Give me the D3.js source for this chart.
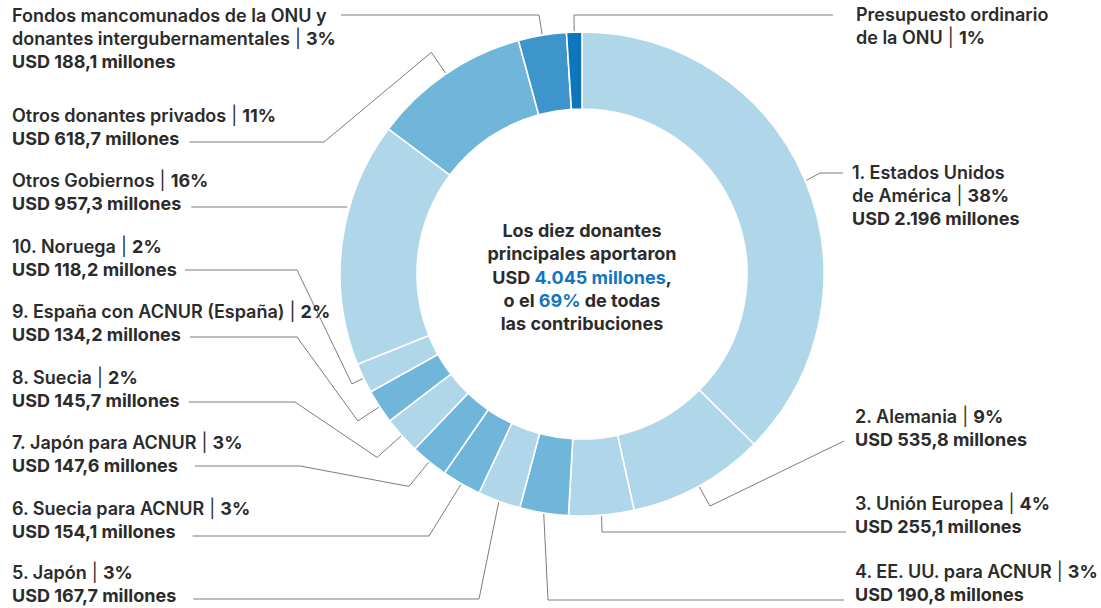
<!DOCTYPE html>
<html>
<head>
<meta charset="utf-8">
<script src="https://cdn.jsdelivr.net/npm/d3@7"></script>
<style>
  body { margin: 0; background: #fff; }
  svg text { font-family: Inter, "Open Sans", sans-serif; font-size: 18px; fill: #2b2b2b; }
</style>
</head>
<body>
<div id="donut"></div>
<script>
const names = [
  "1. Estados Unidos\nde América", "2. Alemania", "3. Unión Europea", "4. EE. UU. para ACNUR",
  "5. Japón", "6. Suecia para ACNUR", "7. Japón para ACNUR", "8. Suecia",
  "9. España con ACNUR (España)", "10. Noruega", "Otros Gobiernos", "Otros donantes privados",
  "Fondos mancomunados de la ONU y\ndonantes intergubernamentales", "Presupuesto ordinario\nde la ONU"
];
const values = [2196, 535.8, 255.1, 190.8, 167.7, 154.1, 147.6, 145.7, 134.2, 118.2, 957.3, 618.7, 188.1, 60];
const shares = ["38%", "9%", "4%", "3%", "3%", "3%", "3%", "2%", "2%", "2%", "16%", "11%", "3%", "1%"];
const amounts = [
  "USD 2.196 millones", "USD 535,8 millones", "USD 255,1 millones", "USD 190,8 millones",
  "USD 167,7 millones", "USD 154,1 millones", "USD 147,6 millones", "USD 145,7 millones",
  "USD 134,2 millones", "USD 118,2 millones", "USD 957,3 millones", "USD 618,7 millones",
  "USD 188,1 millones", null
];
const donorType = ["gov", "gov", "gov", "private", "gov", "private", "private", "gov", "private", "gov", "gov", "private", "pooled", "un"];
const centerLines = ["Los diez donantes", "principales aportaron", "USD *4.045 millones*,", "o el *69%* de todas", "las contribuciones"];

const data = names.map((n, i) => ({ name: n, value: values[i], share: shares[i], amount: amounts[i], type: donorType[i] }));

const width = 1101, height = 608;
const cx = 582, cy = 274, R = 242, r0 = 165;

// label placement: first baseline, which line carries the leader, leader y, knee point
const labelPos = [
  { side: "right", x: 852, y: 179, lead: 0, ly: 173, knee: [820, 173], gap: 9 },
  { side: "right", x: 855, y: 423, lead: 1, ly: 441, elbow: 23, gap: 11 },
  { side: "right", x: 855, y: 510, lead: 1, ly: 532, knee: [602, 532], gap: 9 },
  { side: "right", x: 855, y: 578, lead: 1, ly: 600, knee: [548, 600], gap: 11 },
  { side: "left", x: 12, y: 579, lead: 1, ly: 599, knee: [479, 599], gap: 17 },
  { side: "left", x: 12, y: 515, lead: 1, ly: 536, knee: [429, 536], gap: 17 },
  { side: "left", x: 12, y: 449, lead: 1, ly: 466, elbow: 32, knee: [300, 466], gap: 17 },
  { side: "left", x: 12, y: 384, lead: 1, ly: 402, elbow: 33, knee: [295, 402], gap: 9 },
  { side: "left", x: 12, y: 318, lead: 1, ly: 337, elbow: 26, knee: [297, 337], gap: 9 },
  { side: "left", x: 12, y: 253, lead: 1, ly: 270, elbow: 13, knee: [297, 270], gap: 8 },
  { side: "left", x: 12, y: 187, lead: 1, ly: 207, flat: true, gap: 10 },
  { side: "left", x: 12, y: 122, lead: 1, ly: 142, elbow: 26, knee: [324, 142], gap: 10 },
  { side: "left", x: 12, y: 22, lead: 0, ly: 15, knee: [539, 15], gap: 14 },
  { side: "right", x: 856, y: 21, lead: 0, ly: 15, knee: [574, 15], gap: 23 }
];

const color = d3.scaleOrdinal()
  .domain(["gov", "private", "pooled", "un"])
  .range(["#b0d6e9", "#70b6da", "#3d95cb", "#0e76bc"]);

const svg = d3.select("#donut")
  .append("svg")
  .attr("width", width)
  .attr("height", height);

const pie = d3.pie().sort(null).value(d => d.value);
const arc = d3.arc().innerRadius(r0).outerRadius(R);
const arcs = pie(data);

svg.append("g")
  .attr("transform", `translate(${cx},${cy})`)
  .selectAll("path")
  .data(arcs)
  .join("path")
  .attr("d", arc)
  .attr("fill", d => color(d.data.type))
  .attr("stroke", "#fff")
  .attr("stroke-width", 1.6);

// center text
const lineH = 23.3;
const ct = svg.append("g");
centerLines.forEach((ln, i) => {
  const t = ct.append("text")
    .attr("x", cx)
    .attr("y", 237 + i * lineH)
    .attr("text-anchor", "middle")
    .attr("font-weight", 700);
  ln.split("*").forEach((part, j) => {
    t.append("tspan").text(part).attr("fill", j % 2 ? "#1176bf" : null);
  });
});

// labels
const polar = (a, rad) => [cx + rad * Math.sin(a), cy - rad * Math.cos(a)];
const lineGen = d3.line();
const leaders = svg.append("g");
const labels = svg.append("g");

arcs.forEach((a, i) => {
  const p = labelPos[i];
  const d = a.data;
  const nameLines = d.name.split("\n");
  const rows = nameLines.map((n, k) => k === nameLines.length - 1 ? [n, d.share] : [n, null]);
  if (d.amount) rows.push([d.amount, null, true]);

  const g = labels.append("g");
  const texts = rows.map((row, k) => {
    const t = g.append("text").attr("x", p.x).attr("y", p.y + k * 22.8);
    if (row[2]) {
      t.append("tspan").attr("font-weight", 700).text(row[0]);
    } else {
      t.append("tspan").attr("font-weight", 600).text(row[0]);
      if (row[1]) {
        t.append("tspan").attr("font-weight", 400).text(" | ");
        t.append("tspan").attr("font-weight", 700).text(row[1]);
      }
    }
    return t;
  });

  const box = texts[p.lead].node().getBBox();
  const end = p.side === "left" ? [box.x + box.width + p.gap, p.ly] : [p.x - p.gap, p.ly];
  const mid = (a.startAngle + a.endAngle) / 2;
  let pts;
  if (p.flat) {
    const dy = p.ly - cy;
    pts = [[cx - Math.sqrt(R * R - dy * dy) - 2, p.ly], end];
  } else {
    pts = [polar(mid, R + 1)];
    if (p.elbow) pts.push(polar(mid, R + p.elbow));
    if (p.knee) pts.push(p.knee);
    pts.push(end);
  }

  leaders.append("path")
    .attr("d", lineGen(pts))
    .attr("fill", "none")
    .attr("stroke", "#7d7d7d")
    .attr("stroke-width", 1);
});
</script>
</body>
</html>
